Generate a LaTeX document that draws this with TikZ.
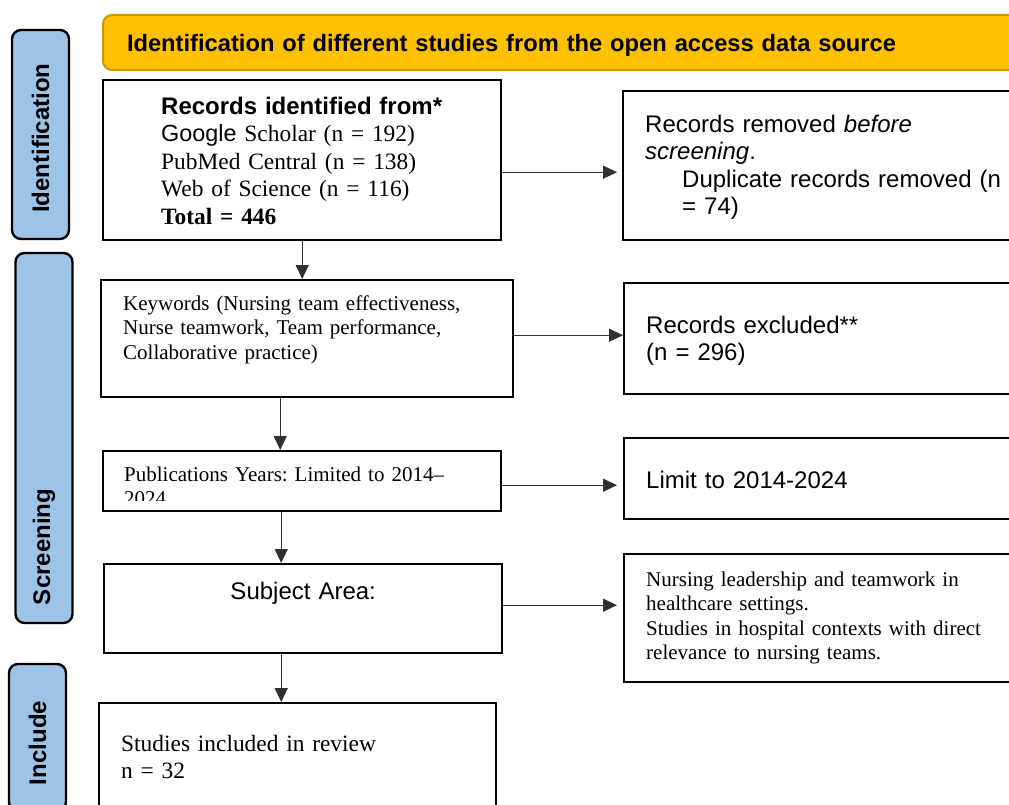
\documentclass[tikz,border=0pt]{standalone}
\usepackage{fontspec}
\setmainfont{Liberation Serif}
\setsansfont{Liberation Sans}
\usetikzlibrary{positioning, arrows.meta}
\frenchspacing

\definecolor{headfill}{HTML}{FFC000}
\definecolor{headline}{HTML}{C49A00}
\definecolor{barfill}{HTML}{9DC3E6}
\definecolor{arrline}{HTML}{303030}

\newcommand{\serbig}{\fontsize{23.4}{27.5}\selectfont}
\newcommand{\sersmall}{\fontsize{21}{24.5}\selectfont}
\newcommand{\sansbig}{\fontsize{24}{27.5}\selectfont\sffamily}

\tikzset{
  box/.style={draw, line width=2.4pt, anchor=north west, inner ysep=0pt, inner xsep=22pt, align=left},
  bar/.style={draw, line width=2.4pt, fill=barfill, rounded corners=9pt, rotate=90, align=left,
              inner ysep=0pt, minimum height=57pt, font=\sansbig\bfseries},
  arr/.style={-{Triangle[length=14pt,width=13pt]}, line width=1.3pt, draw=arrline, fill=black},
}

\begin{document}
\begin{tikzpicture}[x=1pt, y=-1pt]
  \useasboundingbox (0,0) rectangle (1009,805);

  % phase bars on the left
  \node[bar, inner xsep=26pt, text width=157pt] (barid) at (40.5,134.5) {Identification};
  \node[bar, inner xsep=18pt, text width=334pt] (barsc) at (44,438) {Screening};
  \node[bar, inner xsep=26pt, text width=95pt]  (barin) at (37.5,737.5) {Include};

  % heading
  \node[draw=headline, line width=2pt, fill=headfill, rounded corners=9pt, anchor=north west,
        inner xsep=24pt, inner ysep=0pt, text width=880pt, text height=37pt, text depth=18pt,
        font=\fontsize{23.7}{27}\selectfont\sffamily\bfseries] (head) at (102,14)
        {Identification of different studies from the open access data source};

  % left column
  \node[box, inner xsep=58pt, text width=282pt, text height=34pt, text depth=126pt, font=\serbig] (ident) at (102,79)
        {{\sansbig\bfseries Records identified from*}\\
         {\sffamily Google} Scholar (n = 192)\\
         PubMed Central (n = 138)\\
         Web of Science (n = 116)\\
         \textbf{Total = 446}};
  \node[box, text width=368pt, text height=30pt, text depth=87pt, font=\sersmall] (kw) at (100,279)
        {Keywords (Nursing team effectiveness,\\
         Nurse teamwork, Team performance,\\
         Collaborative practice)};
  \node[box, minimum width=398pt, minimum height=60pt] (yrs) at (102,450) {};
  \begin{scope}
    \clip (yrs.north west) rectangle ([yshift=12pt]yrs.south east);
    \node[anchor=base west, inner sep=0pt, align=left, text width=354pt, font=\sersmall] (yrstext)
          at ([shift={(22,31)}]yrs.north west) {Publications Years: Limited to 2014--\\2024};
  \end{scope}
  \node[box, text width=354pt, align=center, text height=35pt, text depth=54pt, font=\sansbig] (subj) at (103,563)
        {Subject Area:};
  \node[box, text width=353pt, text height=48pt, text depth=80pt, font=\serbig] (incl) at (98,702)
        {Studies included in review\\
         n = 32};

  % right column
  \node[box, text width=360pt, text height=41pt, text depth=108pt, font=\sansbig] (dup) at (622,90)
        {Records removed \textit{before}\\
         \textit{screening}.\\
         \hspace*{37pt}Duplicate records removed (n\\
         \hspace*{37pt}= 74)};
  \node[box, text width=360pt, text height=50pt, text depth=61pt, font=\sansbig] (excl) at (623,282)
        {Records excluded**\\
         (n = 296)};
  \node[box, text width=360pt, text height=50pt, text depth=31pt, font=\sansbig] (lim) at (623,437)
        {Limit to 2014-2024};
  \node[box, text width=360pt, text height=32pt, text depth=96pt, font=\sersmall] (crit) at (623,553)
        {Nursing leadership and teamwork in\\
         healthcare settings.\\
         Studies in hospital contexts with direct\\
         relevance to nursing teams.};

  % connectors
  \draw[arr, shorten >=5pt] ([yshift=-12pt]ident.east) -- ([yshift=-12pt]ident.east -| dup.west);
  \draw[arr] (ident.south) -- (ident.south |- kw.north);
  \draw[arr] ([yshift=3.5pt]kw.east) -- ([yshift=3.5pt]kw.east -| excl.west);
  \draw[arr] ([xshift=-27pt]kw.south) -- ([xshift=-27pt]kw.south |- yrs.north);
  \draw[arr, shorten >=6pt] ([yshift=-4pt]yrs.east) -- ([yshift=-4pt]yrs.east -| lim.west);
  \draw[arr] ([xshift=-21pt]yrs.south) -- ([xshift=-21pt]yrs.south |- subj.north);
  \draw[arr, shorten >=6pt] ([yshift=3.5pt]subj.east) -- ([yshift=3.5pt]subj.east -| crit.west);
  \draw[arr] ([xshift=-22pt]subj.south) -- ([xshift=-22pt]subj.south |- incl.north);
\end{tikzpicture}
\end{document}
